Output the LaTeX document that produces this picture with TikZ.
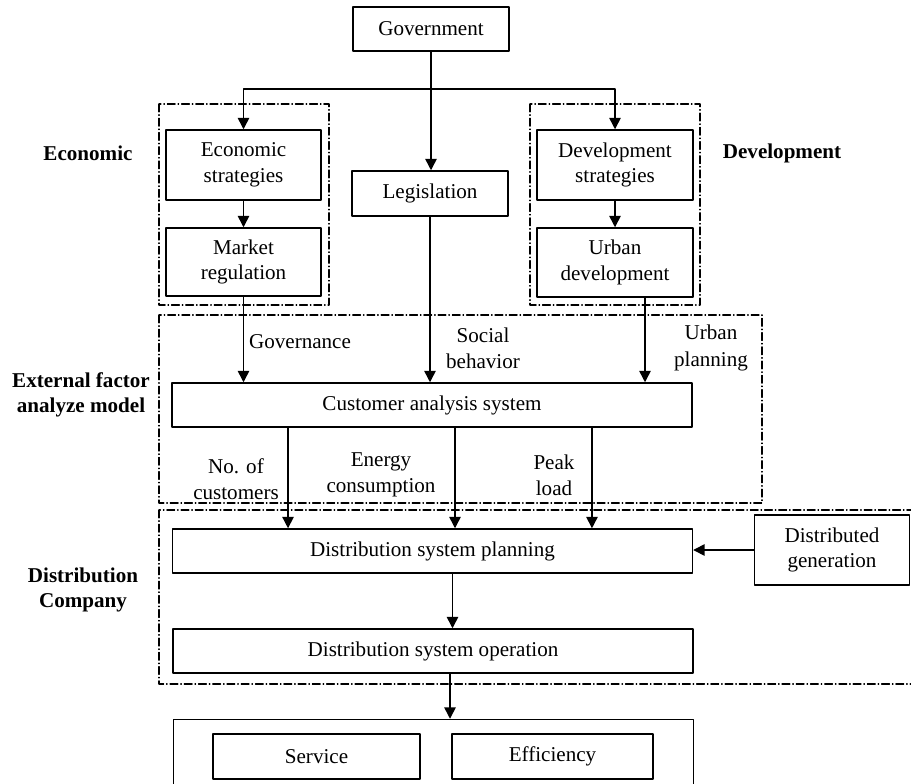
\documentclass[tikz,border=0pt]{standalone}
\usepackage{fontspec}
\setmainfont{Liberation Serif}
\usetikzlibrary{arrows.meta,positioning}

\begin{document}
\begin{tikzpicture}[x=0.02cm,y=-0.02cm,line cap=round,line join=round,
  box/.style={draw,line width=0.85pt,align=center,inner sep=2pt,font=\fontsize{12}{14.5}\selectfont},
  lbl/.style={align=center,inner sep=0pt,font=\fontsize{12}{15}\selectfont},
  side/.style={align=center,inner sep=0pt,font=\fontsize{12}{14.5}\selectfont\bfseries},
  grp/.style={line width=0.6pt,dash pattern=on 4.5pt off 1.6pt on 0.4pt off 1.6pt},
  arr/.style={line width=0.85pt,-{Triangle[length=6.5pt,width=6.5pt]}}]
  \useasboundingbox (0,0) rectangle (911,783);
  \draw[grp] (159,104) rectangle (329,305);
  \draw[grp] (530,104) rectangle (700,305);
  \draw[grp] (159,315) rectangle (762,503);
  \draw[grp] (159,510) rectangle (925,684);
  \node[box,minimum width=3.12cm,minimum height=0.88cm] (gov) at (431,29) {Government};
  \node[box,minimum width=3.1cm,minimum height=1.4cm] (econ) at (243.5,165) {Economic\\strategies};
  \node[box,minimum width=3.1cm,minimum height=1.36cm] (market) at (243.5,262) {Market\\regulation};
  \node[box,minimum width=3.12cm,minimum height=0.9cm] (legis) at (430,193.5) {Legislation};
  \node[box,minimum width=3.12cm,minimum height=1.4cm] (devstr) at (615,165) {Development\\strategies};
  \node[box,minimum width=3.12cm,minimum height=1.38cm] (urban) at (615,262.5) {Urban\\development};
  \node[box,minimum width=10.4cm,minimum height=0.88cm] (cust) at (432,405) {Customer analysis system};
  \node[box,minimum width=10.4cm,minimum height=0.88cm] (plan) at (432.5,551) {Distribution system planning};
  \node[box,minimum width=3.1cm,minimum height=1.4cm] (distgen) at (832,550) {Distributed\\generation};
  \node[box,minimum width=10.4cm,minimum height=0.88cm] (oper) at (433,651) {Distribution system operation};
  \node[box,minimum width=10.4cm,minimum height=1.5cm] (result) at (433.5,757) {};
  \node[box,minimum width=4.14cm,minimum height=0.9cm] (service) at (316.5,756.5) {Service};
  \node[box,minimum width=4.02cm,minimum height=0.9cm] (effic) at (552.5,756.5) {Efficiency};
  \node[side] (econlbl) at (88,153) {Economic};
  \node[side] (devlbl) at (782,153) {Development};
  \node[side] (extlbl) at (81,395) {External factor\\analyze model};
  \node[side] (distlbl) at (83,590) {Distribution\\Company};
  \node[lbl] (govlbl) at (300,342) {Governance};
  \node[lbl] (soclbl) at (483,348) {Social\\behavior};
  \node[lbl] (urblbl) at (711,348) {Urban\\planning};
  \node[lbl] (ncustlbl) at (236,479) {No. of\\customers};
  \node[lbl] (energylbl) at (381,475) {Energy\\consumption};
  \node[lbl] (peaklbl) at (554,475) {Peak\\load};
  \coordinate (split) at (431,89);
  \draw[arr] (gov.south) -- (gov.south |- legis.north);
  \draw[arr] (split) -| (econ);
  \draw[arr] (split) -| (devstr);
  \draw[arr] (econ) -- (market);
  \draw[arr] (devstr) -- (urban);
  \draw[arr] (market) -- (market |- cust.north);
  \draw[arr] (legis) -- (legis |- cust.north);
  \coordinate (u1) at ([xshift=0.6cm]urban.south);
  \draw[arr] (u1) -- (u1 |- cust.north);
  \coordinate (c1) at ([xshift=-2.88cm]cust.south);
  \coordinate (c2) at ([xshift=0.46cm]cust.south);
  \coordinate (c3) at ([xshift=3.2cm]cust.south);
  \foreach \c in {c1,c2,c3}
    \draw[arr] (\c) -- (\c |- plan.north);
  \coordinate (p1) at ([xshift=0.4cm]plan.south);
  \draw[arr] (p1) -- (p1 |- oper.north);
  \coordinate (o1) at ([xshift=0.34cm]oper.south);
  \draw[arr] (o1) -- (o1 |- result.north);
  \draw[arr] (distgen) -- (distgen -| plan.east);
\end{tikzpicture}
\end{document}
